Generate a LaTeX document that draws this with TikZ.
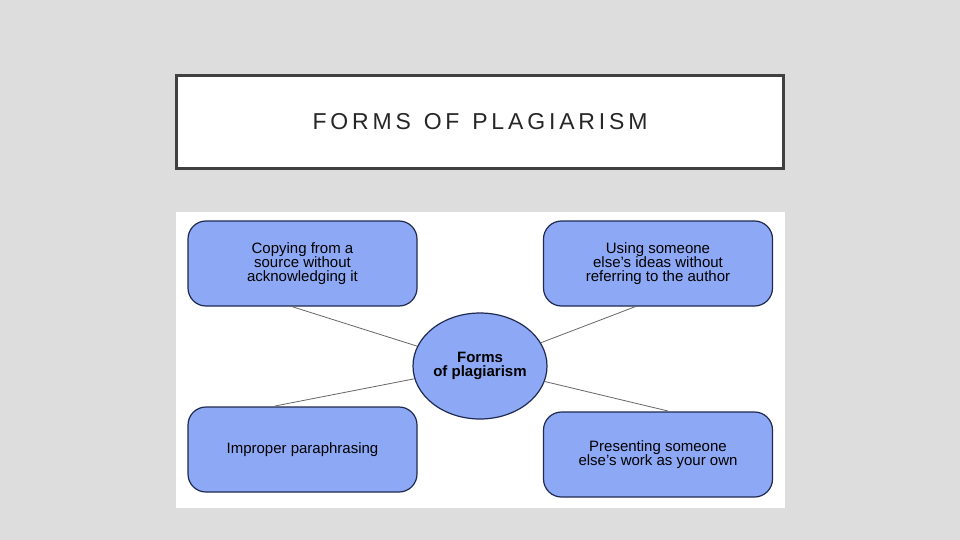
\documentclass[tikz,border=0pt]{standalone}
\usepackage{fontspec}
\setmainfont{Liberation Sans}
\usetikzlibrary{shapes.geometric}
\definecolor{bg}{HTML}{DDDDDD}
\definecolor{boxfill}{HTML}{8DA9F5}
\definecolor{boxline}{HTML}{1E2A50}
\begin{document}
\begin{tikzpicture}[x=1pt,y=-1pt,
  box/.style={draw=boxline,line width=1.2pt,fill=boxfill,rounded corners=18pt,minimum width=229pt,minimum height=85pt,align=center,font=\fontsize{15}{14}\selectfont,inner sep=2pt},
  conn/.style={draw=black!60,line width=0.8pt}]
\useasboundingbox (0,0) rectangle (960,540);
\fill[bg] (0,0) rectangle (960,540);
\node[draw=black!75,line width=3pt,fill=white,minimum width=607pt,minimum height=93pt,inner sep=0pt] (title) at (480,122.5) {};
\node[font=\fontsize{23}{26}\selectfont,text=black!85] (tt) at (480,122) {F\,O\,R\,M\,S\ \ O\,F\ \ P\,L\,A\,G\,I\,A\,R\,I\,S\,M};
\fill[white] (176,212) rectangle (785,508);
\node[box] (tl) at (302.5,263.5) {Copying from a\\source without\\acknowledging it};
\node[box] (tr) at (658,263.5) {Using someone\\else's ideas without\\referring to the author};
\node[box] (bl) at (302.5,449.5) {Improper paraphrasing};
\node[box] (br) at (658,454.5) {Presenting someone\\else's work as your own};
\node[ellipse,draw=boxline,line width=1.2pt,fill=boxfill,minimum width=134pt,minimum height=106pt,align=center,font=\bfseries\fontsize{15}{14}\selectfont,inner sep=0pt] (c) at (480,366) {Forms\\of plagiarism};
\coordinate (a1) at (290,306); \coordinate (a2) at (637,306);
\coordinate (a3) at (275,406); \coordinate (a4) at (668,411);
\draw[conn] (a1) -- (c);
\draw[conn] (a2) -- (c);
\draw[conn] (a3) -- (c);
\draw[conn] (a4) -- (c);
\end{tikzpicture}
\end{document}
